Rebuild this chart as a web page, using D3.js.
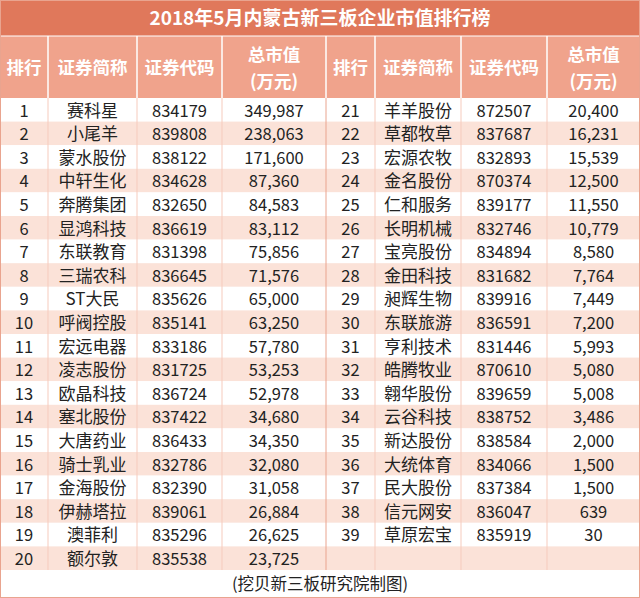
<!DOCTYPE html><html><head><meta charset="utf-8"><script src="https://d3js.org/d3.v7.min.js"></script>
<style>body{margin:0;background:#fff}svg{display:block;font-family:"Noto Sans CJK SC","Liberation Sans",sans-serif}</style></head><body><svg id="c" width="640" height="598"></svg><script>
const title="2018年5月内蒙古新三板企业市值排行榜";
const headers=["排行","证券简称","证券代码","总市值|(万元)","排行","证券简称","证券代码","总市值|(万元)"];
const names=["赛科星","小尾羊","蒙水股份","中轩生化","奔腾集团","显鸿科技","东联教育","三瑞农科","ST大民","呼阀控股","宏远电器","凌志股份","欧晶科技","塞北股份","大唐药业","骑士乳业","金海股份","伊赫塔拉","澳菲利","额尔敦","羊羊股份","草都牧草","宏源农牧","金名股份","仁和服务","长明机械","宝亮股份","金田科技","昶辉生物","东联旅游","亨利技术","皓腾牧业","翱华股份","云谷科技","新达股份","大统体育","民大股份","信元网安","草原宏宝"];
const codes=["834179","839808","838122","834628","832650","836619","831398","836645","835626","835141","833186","831725","836724","837422","836433","832786","832390","839061","835296","835538","872507","837687","832893","870374","839177","832746","834894","831682","839916","836591","831446","870610","839659","838752","838584","834066","837384","836047","835919"];
const values=[349987,238063,171600,87360,84583,83112,75856,71576,65000,63250,57780,53253,52978,34680,34350,32080,31058,26884,26625,23725,20400,16231,15539,12500,11550,10779,8580,7764,7449,7200,5993,5080,5008,3486,2000,1500,1500,639,30];
const footer="(挖贝新三板研究院制图)";
const svg=d3.select("#c");
const colEdges=[0,48,137,222,326,375,461,547,640];
const x=i=>colEdges[i], w=i=>colEdges[i+1]-colEdges[i];
const y=d3.scaleLinear().domain([0,20]).range([98,570]);
const fmt=d3.format(",");
svg.append("rect").attr("width",640).attr("height",36).attr("fill","#E0785B");
svg.append("text").attr("x",320).attr("y",25).attr("text-anchor","middle").attr("fill","#fff").attr("font-size",19).attr("font-weight","bold").text(title);
svg.append("rect").attr("y",36).attr("width",640).attr("height",62).attr("fill","#F0A38C");
headers.forEach((h,i)=>{const parts=h.split("|");const t=svg.append("text").attr("x",x(i)+w(i)/2).attr("text-anchor","middle").attr("fill","#fff").attr("font-size",17.5).attr("font-weight","bold");
 if(parts.length==1)t.attr("y",74).text(h);else{t.append("tspan").attr("x",x(i)+w(i)/2).attr("y",61).text(parts[0]);t.append("tspan").attr("x",x(i)+w(i)/2).attr("y",88).text(parts[1]);}});
for(let r=0;r<20;r++){svg.append("rect").attr("y",y(r)).attr("width",640).attr("height",y(r+1)-y(r)).attr("fill",r%2?"#FBE2D8":"#fff");}
const rows=d3.range(39).map(i=>({rank:i+1,name:names[i],code:codes[i],val:fmt(values[i]),r:i%20,side:i<20?0:4}));
rows.forEach(d=>{[d.rank,d.name,d.code,d.val].forEach((v,k)=>{const c=d.side+k;svg.append("text").attr("x",x(c)+w(c)/2).attr("y",y(d.r)+18.5).attr("text-anchor","middle").attr("fill","#222").attr("font-size",k==1?17:16.5).attr("textLength",k==1?null:null).text(v);});});
colEdges.slice(1,-1).forEach((e,i)=>{svg.append("line").attr("x1",e).attr("x2",e).attr("y1",36).attr("y2",98).attr("stroke","#fff").attr("stroke-width",1.5);svg.append("line").attr("x1",e).attr("x2",e).attr("y1",98).attr("y2",570).attr("stroke",i==3?"#E9A48F":"#F6CBBD").attr("stroke-width",1);});
svg.append("line").attr("x1",0).attr("x2",640).attr("y1",36).attr("y2",36).attr("stroke","#fff");
svg.append("text").attr("x",320).attr("y",590).attr("text-anchor","middle").attr("fill","#222").attr("font-size",16.5).text(footer);
svg.append("rect").attr("x",0.5).attr("y",0.5).attr("width",639).attr("height",597).attr("fill","none").attr("stroke","#E9A48F");
</script></body></html>
